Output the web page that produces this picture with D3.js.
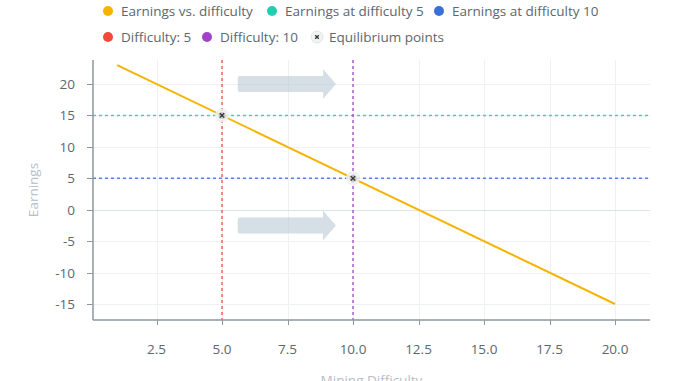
<!DOCTYPE html>
<html>
<head>
<meta charset="utf-8">
<script src="https://cdn.jsdelivr.net/npm/d3@7"></script>
<style>
  html, body { margin: 0; padding: 0; background: #fff; }
  svg { display: block; font-family: "Open Sans", "Noto Sans", sans-serif; }
</style>
</head>
<body>
<div id="chart"></div>
<script>
// data
const difficulty = [1, 20];
const earnings = [23, -15];
const eqPoints = [[5, 15], [10, 5]];
const hLines = [{ y: 15, name: "Earnings at difficulty 5", color: "#22cdb0" },
                { y: 5, name: "Earnings at difficulty 10", color: "#3a6fd8" }];
const vLines = [{ x: 5, name: "Difficulty: 5", color: "#f4493a" },
                { x: 10, name: "Difficulty: 10", color: "#a043c6" }];
const arrows = [{ x0: 5.6, x1: 9.35, y: 20 }, { x0: 5.6, x1: 9.35, y: -2.5 }];
const xTicks = [2.5, 5, 7.5, 10, 12.5, 15, 17.5, 20];
const yTicks = [-15, -10, -5, 0, 5, 10, 15, 20];

const W = 678, H = 381;
const L = 93, R = 650, T = 60, B = 320;
const INK = "#5b6770", LINE = "#f6b400";
const FS = 13.5;

const x = d3.scaleLinear().domain([0, 20]).range([91, 615]);
const y = d3.scaleLinear().domain([-15, 20]).range([304, 84]);
const px = v => Math.round(v) + 0.5; // crisp 1px lines

const svg = d3.select("#chart").append("svg").attr("width", W).attr("height", H);

// grid
svg.append("g").selectAll("line").data(xTicks).join("line")
  .attr("x1", d => px(x(d))).attr("x2", d => px(x(d))).attr("y1", T).attr("y2", B)
  .attr("stroke", "#eef1f4");
svg.append("g").selectAll("line").data(yTicks).join("line")
  .attr("x1", L).attr("x2", R).attr("y1", d => px(y(d))).attr("y2", d => px(y(d)))
  .attr("stroke", d => d === 0 ? "#dde3e8" : "#eef1f4");

// reference lines (dotted)
svg.append("g").selectAll("line").data(hLines).join("line")
  .attr("x1", L).attr("x2", R).attr("y1", d => y(d.y)).attr("y2", d => y(d.y))
  .attr("stroke", d => d.color).attr("stroke-width", 1.5).attr("stroke-dasharray", "3 3")
  .attr("opacity", 0.85);
svg.append("g").selectAll("line").data(vLines).join("line")
  .attr("x1", d => x(d.x)).attr("x2", d => x(d.x)).attr("y1", T).attr("y2", B)
  .attr("stroke", d => d.color).attr("stroke-width", 1.5).attr("stroke-dasharray", "3 3")
  .attr("opacity", 0.85);

// arrows
const arrowPath = a => {
  const x0 = x(a.x0), x1 = x(a.x1), cy = y(a.y), hb = 8, hh = 15, hl = 13;
  return `M${x0 + 2},${cy - hb} L${x1 - hl},${cy - hb} L${x1 - hl},${cy - hh} L${x1},${cy} ` +
    `L${x1 - hl},${cy + hh} L${x1 - hl},${cy + hb} L${x0 + 2},${cy + hb} Q${x0},${cy + hb} ${x0},${cy + hb - 2} ` +
    `L${x0},${cy - hb + 2} Q${x0},${cy - hb} ${x0 + 2},${cy - hb} Z`;
};
svg.append("g").selectAll("path").data(arrows).join("path")
  .attr("d", arrowPath).attr("fill", "#b9cad3").attr("opacity", 0.6);

// main line
svg.append("path")
  .attr("d", d3.line().x(d => x(d[0])).y(d => y(d[1]))(difficulty.map((d, i) => [d, earnings[i]])))
  .attr("fill", "none").attr("stroke", LINE).attr("stroke-width", 2);

// equilibrium markers
const xMark = (g, s) => g.append("path")
  .attr("d", `M${-s},${-s}L${s},${s}M${-s},${s}L${s},${-s}`)
  .attr("stroke", "#333").attr("stroke-width", 1.3);
eqPoints.forEach(p => {
  const g = svg.append("g").attr("transform", `translate(${x(p[0])},${y(p[1])})`);
  g.append("circle").attr("r", 7).attr("fill", "#eceef0").attr("opacity", 0.85);
  g.append("circle").attr("r", 3.5).attr("fill", "#9aa0a4").attr("opacity", 0.45);
  xMark(g, 2.2);
});

// axes
svg.append("line").attr("x1", L).attr("x2", L).attr("y1", T).attr("y2", B)
  .attr("stroke", "#8d979e").attr("stroke-width", 1.5);
svg.append("line").attr("x1", L).attr("x2", R).attr("y1", B).attr("y2", B)
  .attr("stroke", "#8d979e").attr("stroke-width", 1.5);
svg.append("g").selectAll("line").data(yTicks).join("line")
  .attr("x1", L - 6).attr("x2", L).attr("y1", d => px(y(d))).attr("y2", d => px(y(d)))
  .attr("stroke", "#8d979e");
svg.append("g").selectAll("text").data(yTicks).join("text")
  .attr("x", 75).attr("y", d => y(d) + 5).attr("text-anchor", "end")
  .attr("font-size", FS).attr("fill", INK).text(d => d);
svg.append("g").selectAll("line").data(xTicks).join("line")
  .attr("x1", d => px(x(d))).attr("x2", d => px(x(d))).attr("y1", B).attr("y2", B + 5)
  .attr("stroke", "#8d979e");
svg.append("g").selectAll("text").data(xTicks).join("text")
  .attr("x", d => x(d)).attr("y", 354).attr("text-anchor", "middle")
  .attr("font-size", FS).attr("fill", INK).text(d => d.toFixed(1));

svg.append("text").attr("transform", `translate(38,${(T + B) / 2}) rotate(-90)`)
  .attr("text-anchor", "middle").attr("font-size", FS).attr("fill", "#b5c0c8").text("Earnings");
svg.append("text").attr("x", (L + R) / 2).attr("y", 385)
  .attr("text-anchor", "middle").attr("font-size", FS).attr("fill", "#b5c0c8").text("Mining Difficulty");

// legend
const legend = [
  { name: "Earnings vs. difficulty", color: LINE, x: 108, y: 11 },
  { name: hLines[0].name, color: hLines[0].color, x: 272, y: 11 },
  { name: hLines[1].name, color: hLines[1].color, x: 439, y: 11 },
  { name: vLines[0].name, color: vLines[0].color, x: 108, y: 37 },
  { name: vLines[1].name, color: vLines[1].color, x: 207, y: 37 },
  { name: "Equilibrium points", color: null, x: 317, y: 37 }
];
legend.forEach(l => {
  const g = svg.append("g").attr("transform", `translate(${l.x},${l.y})`);
  if (l.color) {
    g.append("circle").attr("r", 5).attr("fill", l.color);
  } else {
    g.append("circle").attr("r", 6).attr("fill", "#f1f2f3").attr("stroke", "#e2e4e6");
    xMark(g, 1.8);
  }
  g.append("text").attr("x", l.color ? 13 : 12).attr("y", 5)
    .attr("font-size", FS).attr("fill", INK).text(l.name);
});
</script>
</body>
</html>
